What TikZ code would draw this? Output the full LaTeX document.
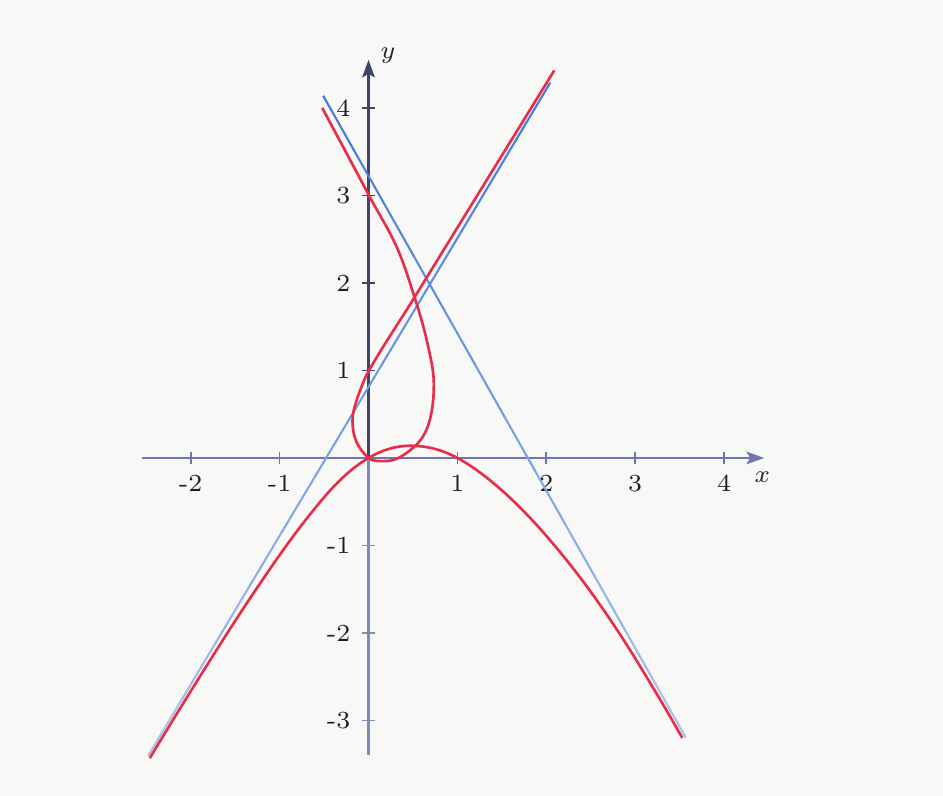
\documentclass[tikz,border=0pt]{standalone}
\usetikzlibrary{arrows.meta,calc}
\definecolor{curvered}{RGB}{230,46,74}
\definecolor{bluetop}{RGB}{60,118,222}
\definecolor{bluebot}{RGB}{172,196,236}
\definecolor{xaxiscol}{RGB}{112,118,172}
\definecolor{yaxiscol}{RGB}{62,68,108}
\definecolor{yaxislow}{RGB}{128,138,182}
\definecolor{paper}{RGB}{248,248,247}
\begin{document}
\begin{tikzpicture}[x=0.889cm,y=0.875cm,
  redcurve/.style={draw=curvered,line width=0.75pt,line join=round},
  blueline/.style={line width=0.6pt},
  axisx/.style={draw=xaxiscol,line width=0.6pt,-{Stealth[length=5pt,width=3.6pt,inset=1pt]}},
  axisy/.style={draw=yaxiscol,line width=0.6pt,-{Stealth[length=5pt,width=3.6pt,inset=1pt]}},
  axisylow/.style={draw=yaxislow,line width=0.6pt},
  tickx/.style={draw=xaxiscol,line width=0.5pt},
  ticky/.style={draw=yaxiscol,line width=0.5pt},
  tickylow/.style={draw=yaxislow,line width=0.5pt},
  ticklab/.style={font=\fontsize{7}{8}\selectfont,inner sep=0pt,text=black!88},
  axlab/.style={font=\fontsize{7.5}{9}\selectfont\itshape,inner sep=0pt,text=black!85}]
\fill[paper] (-4.145,-3.863) rectangle (6.462,5.234);
\useasboundingbox (-4.145,-3.863) rectangle (6.462,5.234);

% axes
\coordinate (xs) at (-2.55,0);
\coordinate (xe) at (4.45,0);
\coordinate (ys) at (0,-3.39);
\coordinate (o) at (0,0);
\coordinate (ye) at (0,4.55);
\draw[axisx] (xs) -- (xe);
\draw[axisylow] (ys) -- (o);
\draw[axisy] (o) -- (ye);
\node[axlab] (xl) at (4.43,-0.215) {$x$};
\node[axlab] (yl) at (0.22,4.6) {$y$};

% ticks
\foreach \i in {-2,-1,1,2,3,4}{
  \draw[tickx] (\i,-0.065) -- (\i,0.065);
  \node[ticklab] (tx\i) at (\i,-0.29) {\i};
}
\foreach \i in {-3,-2,-1}{
  \draw[tickylow] (-0.07,\i) -- (0.07,\i);
  \node[ticklab,anchor=east] (ty\i) at (-0.195,\i) {\i};
}
\foreach \i in {1,2,3,4}{
  \draw[ticky] (-0.07,\i) -- (0.07,\i);
  \node[ticklab,anchor=east] (ty\i) at (-0.195,\i) {\i};
}

% blue lines (top end first), drawn with a light fade toward the bottom
\coordinate (b1s) at (-0.51,4.14);
\coordinate (b1e) at (3.56,-3.18);
\coordinate (b2s) at (2.045,4.29);
\coordinate (b2e) at (-2.47,-3.39);
\foreach \k in {0,...,11}{
  \pgfmathsetmacro\ta{\k/12}
  \pgfmathsetmacro\tb{(\k+1)/12+0.002}
  \pgfmathtruncatemacro\mix{100-(\k+0.5)*100/12}
  \draw[blueline,draw=bluetop!\mix!bluebot] ($(b1s)!\ta!(b1e)$) -- ($(b1s)!\tb!(b1e)$);
  \draw[blueline,draw=bluetop!\mix!bluebot] ($(b2s)!\ta!(b2e)$) -- ($(b2s)!\tb!(b2e)$);
}

% red lower branch (Hermite pieces)
\draw[redcurve] (-2.46,-3.43)
  .. controls (-2.19,-2.976) and (-1.92,-2.532) .. (-1.65,-2.10)
  .. controls (-1.433,-1.753) and (-1.217,-1.424) .. (-1.0,-1.11)
  .. controls (-0.833,-0.868) and (-0.667,-0.65) .. (-0.5,-0.45)
  .. controls (-0.333,-0.25) and (-0.1667,-0.1) .. (0,0)
  .. controls (0.1567,0.094) and (0.3133,0.14) .. (0.47,0.14)
  .. controls (0.6467,0.14) and (0.8233,0.0972) .. (1.0,0)
  .. controls (1.1667,-0.0917) and (1.3333,-0.22) .. (1.5,-0.37)
  .. controls (1.6667,-0.52) and (1.8333,-0.695) .. (2.0,-0.89)
  .. controls (2.1667,-1.085) and (2.3333,-1.2967) .. (2.5,-1.53)
  .. controls (2.6667,-1.7633) and (2.8333,-2.015) .. (3.0,-2.29)
  .. controls (3.1767,-2.5815) and (3.3533,-2.882) .. (3.53,-3.2);

% red upper branch with loop
\draw[redcurve] (-0.52,4.0)
  .. controls (-0.346,3.670) and (-0.172,3.341) .. (0,3.01)
  .. controls (0.111,2.796) and (0.242,2.592) .. (0.335,2.37)
  .. controls (0.408,2.195) and (0.463,2.011) .. (0.52,1.83)
  .. controls (0.570,1.670) and (0.619,1.509) .. (0.655,1.345)
  .. controls (0.689,1.192) and (0.735,1.00) .. (0.735,0.85)
  .. controls (0.735,0.699) and (0.723,0.545) .. (0.68,0.40)
  .. controls (0.650,0.299) and (0.596,0.199) .. (0.517,0.13)
  .. controls (0.428,0.051) and (0.319,-0.035) .. (0.2,-0.035)
  .. controls (0.132,-0.035) and (0.0505,-0.0455) .. (0,0)
  .. controls (-0.126,0.114) and (-0.18,0.25) .. (-0.18,0.42)
  .. controls (-0.18,0.515) and (-0.151,0.610) .. (-0.12,0.70)
  .. controls (-0.085,0.799) and (-0.051,0.898) .. (0,0.99)
  .. controls (0.161,1.280) and (0.348,1.556) .. (0.52,1.84)
  .. controls (1.043,2.704) and (1.567,3.566) .. (2.09,4.43);
\end{tikzpicture}
\end{document}
